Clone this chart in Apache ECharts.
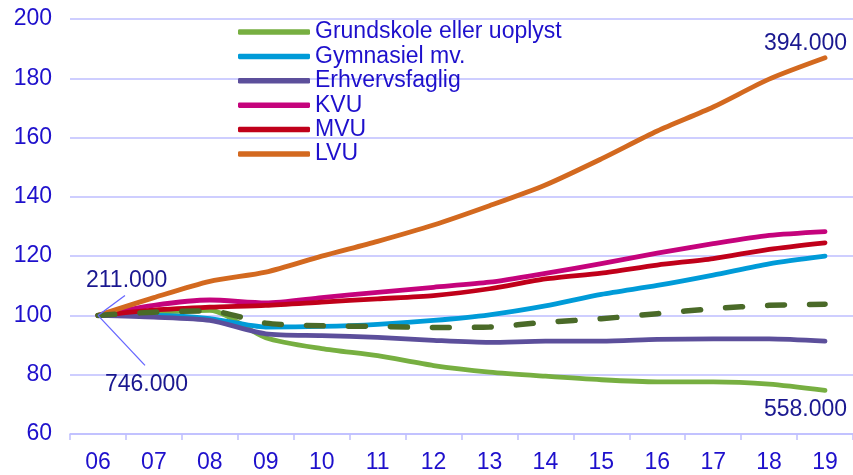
<!DOCTYPE html>
<html><head><meta charset="utf-8">
<script src="https://cdn.jsdelivr.net/npm/echarts@6/dist/echarts.min.js"></script>
<style>html,body{margin:0;padding:0;background:#fff}#c{width:853px;height:475px}</style>
</head><body><div id="c"></div>
<script>
var categories = ['06','07','08','09','10','11','12','13','14','15','16','17','18','19'];
var grundskole = [100,101,101.7,92.5,88.8,86.4,83.1,80.9,79.5,78.3,77.6,77.6,76.8,74.7];
var gymnasiel  = [100,100,98.9,96.1,96.3,97,98.3,100.2,103.2,107.1,110.1,113.6,117.4,120];
var erhverv    = [100,99.4,98.3,93.8,93.2,92.6,91.6,90.9,91.3,91.3,91.9,92.1,92.1,91.3];
var kvu        = [100,103.4,105.2,104.2,106,107.8,109.5,111.2,114.2,117.5,121,124.2,127,128.3];
var mvu        = [100,101.8,102.8,103.4,104.5,105.6,106.7,109,112.3,114.3,117,119.2,122.3,124.5];
var lvu        = [100,106,111.5,114.6,120,125,130.5,137,144,152.8,162.2,170.3,179.7,186.9];
var total      = [100,101.1,101.5,97.4,96.5,96.3,95.9,96.1,97.7,98.9,100.6,102.3,103.4,103.8];
var seriesNames = ['Grundskole eller uoplyst','Gymnasiel mv.','Erhvervsfaglig','KVU','MVU','LVU'];
var annotations = ['211.000','746.000','394.000','558.000'];

var txtBlue = '#1E10CC';
var annColor = '#1A1890';
var gridColor = '#BEBEFF';
var chart = echarts.init(document.getElementById('c'));
function ln(name, data, color) {
  return {name:name, type:'line', data:data, symbol:'none', smooth:0.25,
    lineStyle:{color:color, width:4.8, cap:'round', join:'round'}, itemStyle:{color:color}};
}
var series = [
  ln(seriesNames[0], grundskole, '#77AF41'),
  ln(seriesNames[1], gymnasiel, '#009BD8'),
  ln(seriesNames[2], erhverv, '#5C4F9B'),
  ln(seriesNames[3], kvu, '#C5037C'),
  ln(seriesNames[4], mvu, '#C0001A'),
  ln(seriesNames[5], lvu, '#D3691F'),
  {name:'Total', type:'line', data:total, symbol:'none', smooth:0.25,
    lineStyle:{color:'#4A6A28', width:5.5, type:[17,25], cap:'round'}, itemStyle:{color:'#4A6A28'}}
];
chart.setOption({
  animation:false,
  grid:{left:70, right:0, top:19, bottom:41},
  legend:{data:seriesNames, orient:'vertical', left:238, top:20, padding:0, itemWidth:72, itemHeight:5.5, itemGap:0.4,
    icon:'roundRect',
    textStyle:{color:txtBlue, fontSize:23, fontFamily:'Liberation Sans, Arial', lineHeight:24, padding:[0,0,0,0]}},
  xAxis:{type:'category', data:categories, boundaryGap:true,
    axisLine:{lineStyle:{color:gridColor, width:1.5}},
    axisTick:{show:true, length:6, lineStyle:{color:gridColor, width:1.5}},
    axisLabel:{color:txtBlue, fontSize:23, fontFamily:'Liberation Sans, Arial', margin:17}},
  yAxis:{type:'value', min:60, max:200, interval:20,
    axisLine:{show:false}, axisTick:{show:false},
    splitLine:{lineStyle:{color:gridColor, width:1.5}},
    axisLabel:{color:txtBlue, fontSize:23, fontFamily:'Liberation Sans, Arial', margin:18}},
  series:series
});
var p0 = chart.convertToPixel({seriesIndex:0}, [0, grundskole[0]]);
var pL = chart.convertToPixel({seriesIndex:5}, [13, lvu[13]]);
var pG = chart.convertToPixel({seriesIndex:0}, [13, grundskole[13]]);
var font = '23px "Liberation Sans", Arial';
chart.setOption({graphic:[
  {type:'line', shape:{x1:p0[0], y1:p0[1], x2:p0[0]+27, y2:p0[1]-20}, style:{stroke:'#6666FF', lineWidth:1.3}, z:100},
  {type:'line', shape:{x1:p0[0], y1:p0[1], x2:p0[0]+47, y2:p0[1]+50}, style:{stroke:'#6666FF', lineWidth:1.3}, z:100},
  {type:'text', x:p0[0]-12, y:p0[1]-35, style:{text:annotations[0], font:font, fill:annColor, textVerticalAlign:'middle'}, z:100},
  {type:'text', x:p0[0]+7, y:p0[1]+69, style:{text:annotations[1], font:font, fill:annColor, textVerticalAlign:'middle'}, z:100},
  {type:'text', x:pL[0]+22, y:pL[1]-14, style:{text:annotations[2], font:font, fill:annColor, textAlign:'right', textVerticalAlign:'middle'}, z:100},
  {type:'text', x:pG[0]+22, y:pG[1]+19, style:{text:annotations[3], font:font, fill:annColor, textAlign:'right', textVerticalAlign:'middle'}, z:100}
]});
</script></body></html>
